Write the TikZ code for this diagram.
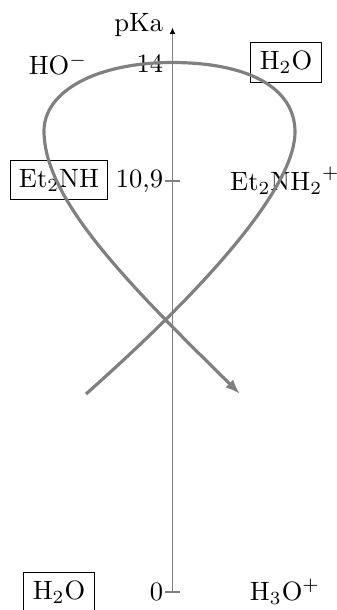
\documentclass[tikz,border=0pt]{standalone}
\usetikzlibrary{arrows.meta}
\begin{document}
\begin{tikzpicture}[x=0.3771pt,y=-0.3771pt,
  boxed/.style={draw=black,line width=0.4pt},
  axisline/.style={draw=gray,line width=0.75pt},
  tickline/.style={draw=gray,line width=0.6pt},
  loopcurve/.style={draw=gray,line width=1.2pt,-{Latex[length=5.6pt,width=4.2pt]}}]
\useasboundingbox (0,0) rectangle (337,610);
% axis
\coordinate (axb) at (172.5,592);
\coordinate (axt) at (172.5,27.5);
\coordinate (t14) at (172.5,63.5);
\coordinate (t109) at (172.5,181);
\draw[axisline,-{Latex[black,length=2.4pt,width=2.2pt]}] (axb) -- (axt);
\draw[tickline] ([xshift=-2.8pt]axb) -- ([xshift=2.8pt]axb);
\draw[tickline] ([xshift=-2.8pt]t109) -- ([xshift=2.8pt]t109);
\draw[tickline] ([xshift=-2.8pt]t14) -- ([xshift=2.8pt]t14);
\node[left] (pka) at (172.5,25) {pKa};
\node[left] (n14) at (t14) {14};
\node[left] (n109) at (t109) {10,9};
\node[left] (n0) at (axb) {0};
% species
\node (hom) at (58,64.1) {$\mathrm{HO^-}$};
\node[boxed] (h2oA) at (286,62.5) {$\mathrm{H_2O}$};
\node[boxed] (et2nh) at (59,180) {$\mathrm{Et_2NH}$};
\node (et2nh2) at (285,181) {$\mathrm{Et_2NH_2}^+$};
\node[boxed] (h2oB) at (59,592) {$\mathrm{H_2O}$};
\node (h3o) at (285,592) {$\mathrm{H_3O^+}$};
% loop curve
\coordinate (cs) at (86,394);
\coordinate (ce) at (240,394);
\draw[loopcurve] (cs) .. controls (235.6,261.2) and (295,177) .. (295,132)
  .. controls (295,87) and (247,62.5) .. (172,62.5)
  .. controls (97,62.5) and (44,91) .. (44,131)
  .. controls (44,201) and (133.2,288.7) .. (ce);
\end{tikzpicture}
\end{document}
